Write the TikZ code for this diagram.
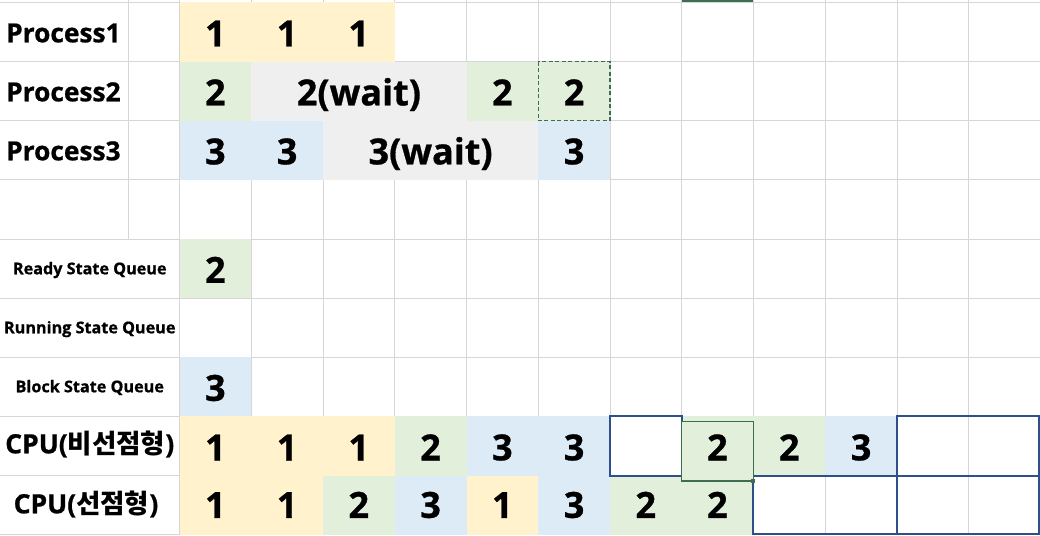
\documentclass[tikz,border=0pt]{standalone}
\usepackage{fontspec}
\setmainfont{Open Sans}[BoldFeatures={FakeBold=0.8}]
\newfontfamily\kr{Noto Sans CJK KR}
\definecolor{gridc}{HTML}{D6D6D6}
\definecolor{yel}{HTML}{FFF2CC}
\definecolor{grn}{HTML}{E2EFDA}
\definecolor{blu}{HTML}{DDEBF7}
\definecolor{gry}{HTML}{EFEFEF}
\definecolor{bordc}{HTML}{2F4E8C}
\definecolor{selc}{HTML}{3D6E50}
\begin{document}
\begin{tikzpicture}[x=1pt,y=-1pt,
  gridline/.style={draw=gridc, line width=0.9pt},
  num/.style={font=\fontsize{36}{40}\selectfont\bfseries, inner sep=0pt, text height=25.7pt, text depth=0pt, anchor=center},
  plabel/.style={font=\fontsize{26.3}{30}\selectfont\bfseries, inner sep=0pt, anchor=base west},
  qlabel/.style={font=\fontsize{16.2}{19}\selectfont\bfseries, inner sep=0pt, anchor=base},
  clabel/.style={font=\fontsize{26.5}{30}\selectfont\bfseries, inner sep=0pt, anchor=base},
  bbox/.style={draw=bordc, line width=2pt},
  selbox/.style={draw=selc, line width=1.5pt, fill=grn},
  marquee/.style={draw=selc, line width=1.1pt, dash pattern=on 4pt off 2.5pt}
]
\useasboundingbox (0,0) rectangle (1040,535);
\fill[white] (0,0) rectangle (1040,535);
% grid
\foreach \y in {2.5,61.5,120.5,179.5,239,298,357,416,475.5,534.5}
  \draw[gridline] (0,\y) -- (1040,\y);
\draw[gridline] (128,0) -- (128,239);
\foreach \x in {179.5,251.2,323,394.6,466.5,538.2,610,681.6,753.3,825.2,897,968.5}
  \draw[gridline] (\x,0) -- (\x,535);
\draw[selc, line width=2pt] (681.6,1.2) -- (753.3,1.2);
% fills
\fill[yel] (179.5,2.5) rectangle (394.6,61.5);
\fill[grn] (179.5,61.5) rectangle (251.2,120.5);
\fill[gry] (251.2,61.5) rectangle (466.5,120.5);
\fill[grn] (466.5,61.5) rectangle (610,120.5);
\fill[blu] (179.5,120.5) rectangle (323,179.5);
\fill[gry] (323,120.5) rectangle (538.2,179.5);
\fill[blu] (538.2,120.5) rectangle (610,179.5);
\fill[grn] (179.5,239) rectangle (251.2,298);
\fill[blu] (179.5,357) rectangle (251.2,416);
\fill[yel] (179.5,416) rectangle (394.6,475.5);
\fill[grn] (394.6,416) rectangle (466.5,475.5);
\fill[blu] (466.5,416) rectangle (610,475.5);
\fill[grn] (681.6,416) rectangle (825.2,475.5);
\fill[blu] (825.2,416) rectangle (897,475.5);
\fill[yel] (179.5,475.5) rectangle (323,535);
\fill[grn] (323,475.5) rectangle (394.6,535);
\fill[blu] (394.6,475.5) rectangle (466.5,535);
\fill[yel] (466.5,475.5) rectangle (538.2,535);
\fill[blu] (538.2,475.5) rectangle (610,535);
\fill[grn] (610,475.5) rectangle (753.3,535);
% borders
\draw[marquee] (538.2,61.5) rectangle (610,120.5);
\draw[bbox] (610,416) rectangle (681.6,475.5);
\draw[bbox] (753.3,475.5) rectangle (1039,533.5);
\draw[bbox] (897,416) rectangle (1039,533.5);
\draw[selbox] (681.6,421.7) rectangle (753.3,481);
\fill[selc] (751.3,479) rectangle (755.3,483);
% labels
\node[plabel] (l1) at (6,42.3) {Process1};
\node[plabel] (l2) at (6,101.3) {Process2};
\node[plabel] (l3) at (6,160.3) {Process3};
\node[qlabel] (lr) at (89.75,274.3) {Ready State Queue};
\node[qlabel] (lu) at (89.75,333.3) {Running State Queue};
\node[qlabel] (lb) at (89.75,392.3) {Block State Queue};
\node[clabel] (lc1) at (89.75,453.3) {CPU({\kr 비선점형})};
\node[clabel] (lc2) at (86,513.3) {CPU({\kr 선점형})};
% row 1
\node[num] (a1) at (215.35,33.5) {1};
\node[num] (a2) at (287.1,33.5) {1};
\node[num] (a3) at (358.8,33.5) {1};
% row 2
\node[num] (b1) at (215.35,92.5) {2};
\node[num] (b2) at (358.9,92.5) {2(wait)};
\node[num] (b3) at (502.35,92.5) {2};
\node[num] (b4) at (574.1,92.5) {2};
% row 3
\node[num] (c1) at (215.35,151.5) {3};
\node[num] (c2) at (287.1,151.5) {3};
\node[num] (c3) at (430.6,151.5) {3(wait)};
\node[num] (c4) at (574.1,151.5) {3};
% queues
\node[num] (q1) at (215.35,270) {2};
\node[num] (q3) at (215.35,388) {3};
% cpu non-preemptive
\node[num] (d1) at (215.35,447.5) {1};
\node[num] (d2) at (287.1,447.5) {1};
\node[num] (d3) at (358.8,447.5) {1};
\node[num] (d4) at (430.55,447.5) {2};
\node[num] (d5) at (502.35,447.5) {3};
\node[num] (d6) at (574.1,447.5) {3};
\node[num] (d7) at (717.45,447.5) {2};
\node[num] (d8) at (789.25,447.5) {2};
\node[num] (d9) at (861.1,447.5) {3};
% cpu preemptive
\node[num] (e1) at (215.35,505) {1};
\node[num] (e2) at (287.1,505) {1};
\node[num] (e3) at (358.8,505) {2};
\node[num] (e4) at (430.55,505) {3};
\node[num] (e5) at (502.35,505) {1};
\node[num] (e6) at (574.1,505) {3};
\node[num] (e7) at (645.8,505) {2};
\node[num] (e8) at (717.45,505) {2};
\end{tikzpicture}
\end{document}
